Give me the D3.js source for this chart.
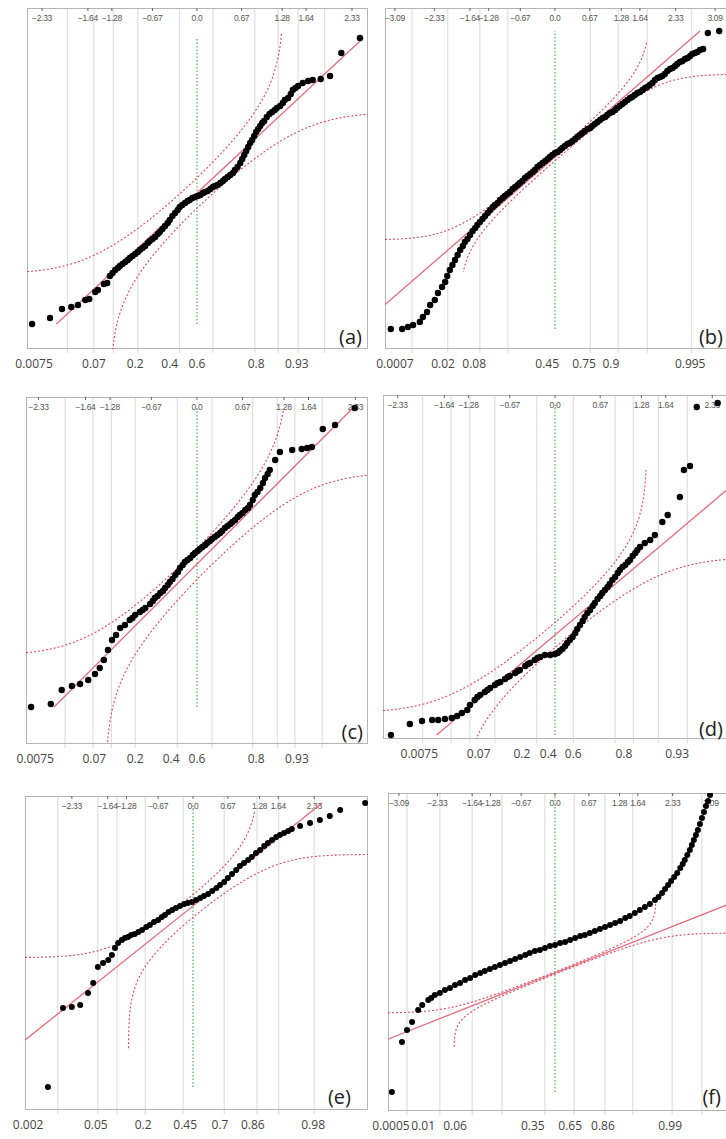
<!DOCTYPE html>
<html><head><meta charset="utf-8">
<script src="https://cdn.jsdelivr.net/npm/d3@7"></script>
<style>
html,body{margin:0;padding:0;background:#fff;}
svg{display:block;}
</style></head><body>
<svg id="chart" width="726" height="1139"></svg>
<script>
// ---------- data ----------
const panelNames = ["(a)", "(b)", "(c)", "(d)", "(e)", "(f)"];

// normal-quantile ticks printed along the top of each frame
const quantTicks9 = [-2.33, -1.64, -1.28, -0.67, 0, 0.67, 1.28, 1.64, 2.33];
const quantTicks11 = [-3.09, -2.33, -1.64, -1.28, -0.67, 0, 0.67, 1.28, 1.64, 2.33, 3.09];

// probability grid lines (normal-quantile position)
const gridA = [-1.95, -1.55, -1.26, -0.89, -0.26, 0.24, 0.87, 1.22, 1.52, 1.92];
const gridB = [-2.76, -2.07, -1.45, -0.91, 0.68, 1.22, 1.78, 2.64];
const gridC = [-1.94, -1.53, -1.26, -0.91, -0.29, 0.22, 0.82, 1.18, 1.44, 1.84];
const gridD = [-1.96, -1.54, -1.26, -0.89, -0.27, 0.27, 0.89, 1.16, 1.53, 1.96];
const gridE = [-2.60, -1.83, -1.46, -0.92, -0.19, 0.60, 1.23, 1.65, 2.33];
const gridF = [-2.93, -2.28, -1.64, -1.05, -0.20, 0.38, 0.99, 1.54, 2.32, 2.91];

// probability labels under each frame and where they sit
const probA = ["0.0075", "0.07", "0.2", "0.4", "0.6", "0.8", "0.93"];
const probAz = [-2.45, -1.55, -0.93, -0.41, 0, 0.89, 1.50];
const probB = ["0.0007", "0.02", "0.08", "0.45", "0.75", "0.9", "0.995"];
const probBz = [-3.09, -2.16, -1.56, -0.15, 0.56, 1.08, 2.61];
const probC = ["0.0075", "0.07", "0.2", "0.4", "0.6", "0.8", "0.93"];
const probCz = [-2.38, -1.51, -0.91, -0.38, 0, 0.87, 1.47];
const probD = ["0.0075", "0.07", "0.2", "0.4", "0.6", "0.8", "0.93"];
const probDz = [-2.01, -1.13, -0.49, -0.10, 0.27, 1.02, 1.81];
const probE = ["0.002", "0.05", "0.2", "0.45", "0.7", "0.86", "0.98"];
const probEz = [-3.17, -1.87, -0.96, -0.15, 0.52, 1.15, 2.31];
const probF = ["0.0005", "0.01", "0.06", "0.35", "0.65", "0.86", "0.99"];
const probFz = [-3.25, -2.61, -1.98, -0.44, 0.30, 0.95, 2.28];

// ordered observations: [normal quantile, value]
const pointsA = [[-2.48,25],[-2.21,31],[-2.03,40],[-1.89,42],[-1.79,44],[-1.68,49],[-1.62,50],[-1.53,57],[-1.49,59],[-1.40,65],[-1.35,66],[-1.31,73],[-1.27,76],[-1.23,79],[-1.19,81],[-1.16,83],[-1.12,85],[-1.08,87],[-1.04,89],[-1.01,91],[-0.97,93],[-0.93,95],[-0.89,97],[-0.86,99],[-0.82,101],[-0.78,103],[-0.74,106],[-0.71,108],[-0.67,110],[-0.63,112],[-0.59,115],[-0.56,117],[-0.52,120],[-0.48,123],[-0.44,126],[-0.41,129],[-0.37,133],[-0.33,136],[-0.29,139],[-0.26,142],[-0.22,144],[-0.18,146],[-0.14,148],[-0.11,149],[-0.07,151],[-0.03,152],[0.01,153],[0.05,154],[0.09,156],[0.12,157],[0.16,158],[0.20,160],[0.24,162],[0.27,163],[0.31,164],[0.35,166],[0.39,168],[0.42,170],[0.46,172],[0.50,174],[0.54,176],[0.57,179],[0.61,182],[0.65,186],[0.68,190],[0.71,194],[0.74,198],[0.77,202],[0.80,206],[0.83,209],[0.86,213],[0.89,217],[0.92,220],[0.95,223],[0.98,226],[1.01,228],[1.05,232],[1.09,235],[1.13,237],[1.17,239],[1.20,241],[1.25,243],[1.29,246],[1.32,249],[1.37,251],[1.41,255],[1.44,259],[1.48,261],[1.52,263],[1.59,266],[1.67,268],[1.74,269],[1.86,270],[2.00,273],[2.17,296],[2.45,311]];
const pointsB = [[-3.17,20],[-2.95,20],[-2.84,22],[-2.74,24],[-2.61,27],[-2.55,32],[-2.47,37],[-2.41,44],[-2.32,49],[-2.26,56],[-2.18,62],[-2.12,67],[-2.08,73],[-2.03,79],[-1.98,84],[-1.93,89],[-1.88,94],[-1.83,99],[-1.78,103],[-1.74,107],[-1.69,110],[-1.64,114],[-1.59,118],[-1.54,121],[-1.50,124],[-1.45,127],[-1.40,130],[-1.35,133],[-1.30,136],[-1.25,139],[-1.20,142],[-1.16,144],[-1.11,146],[-1.06,149],[-1.01,151],[-0.97,153],[-0.92,155],[-0.87,157],[-0.82,160],[-0.77,162],[-0.72,164],[-0.68,166],[-0.63,168],[-0.58,171],[-0.53,173],[-0.48,175],[-0.43,177],[-0.39,179],[-0.34,182],[-0.29,184],[-0.24,186],[-0.19,188],[-0.14,190],[-0.10,192],[-0.05,194],[0,196],[0.05,197],[0.10,199],[0.14,201],[0.19,203],[0.24,205],[0.29,206],[0.34,208],[0.39,210],[0.43,212],[0.48,214],[0.53,216],[0.58,218],[0.63,220],[0.68,221],[0.72,223],[0.77,225],[0.82,227],[0.87,229],[0.92,231],[0.97,232],[1.01,234],[1.06,236],[1.11,237],[1.16,239],[1.20,241],[1.25,243],[1.30,245],[1.35,247],[1.40,249],[1.45,251],[1.49,252],[1.54,254],[1.59,256],[1.64,257],[1.69,259],[1.74,261],[1.78,262],[1.83,264],[1.88,266],[1.93,269],[1.98,271],[2.03,272],[2.07,273],[2.12,275],[2.17,278],[2.22,280],[2.27,281],[2.32,283],[2.36,285],[2.41,287],[2.46,288],[2.51,290],[2.56,291],[2.61,293],[2.65,295],[2.70,296],[2.75,297],[2.80,299],[2.86,300],[2.95,316],[3.17,318]];
const pointsC = [[-2.44,37],[-2.15,40],[-1.99,54],[-1.84,58],[-1.72,60],[-1.60,64],[-1.50,70],[-1.43,76],[-1.37,84],[-1.31,94],[-1.25,104],[-1.19,109],[-1.13,116],[-1.06,119],[-0.99,124],[-0.95,126],[-0.91,129],[-0.84,132],[-0.80,134],[-0.76,136],[-0.69,140],[-0.65,143],[-0.62,146],[-0.58,148],[-0.54,151],[-0.50,153],[-0.47,156],[-0.43,159],[-0.40,162],[-0.36,165],[-0.32,169],[-0.28,172],[-0.25,176],[-0.21,179],[-0.18,182],[-0.14,184],[-0.10,186],[-0.06,189],[-0.03,191],[0.01,193],[0.04,195],[0.08,197],[0.12,199],[0.15,201],[0.19,203],[0.22,205],[0.26,207],[0.30,209],[0.34,211],[0.37,213],[0.41,216],[0.45,218],[0.49,220],[0.52,222],[0.56,224],[0.60,227],[0.63,229],[0.67,231],[0.71,234],[0.75,236],[0.78,239],[0.82,244],[0.85,249],[0.89,252],[0.93,256],[0.97,261],[1.00,266],[1.04,270],[1.07,274],[1.15,284],[1.22,292],[1.40,294],[1.54,295],[1.62,296],[1.69,297],[1.85,315],[2.03,319],[2.32,336]];
const pointsD = [[-2.43,4],[-2.15,15],[-1.97,18],[-1.82,19],[-1.73,19],[-1.63,20],[-1.53,21],[-1.45,23],[-1.38,26],[-1.30,29],[-1.26,34],[-1.19,39],[-1.15,42],[-1.11,44],[-1.04,47],[-1.00,49],[-0.96,51],[-0.89,54],[-0.85,56],[-0.81,57],[-0.74,60],[-0.70,62],[-0.67,63],[-0.59,66],[-0.55,68],[-0.52,69],[-0.44,73],[-0.40,75],[-0.37,76],[-0.30,79],[-0.26,81],[-0.22,82],[-0.15,84],[-0.07,84],[0,85],[0.04,86],[0.07,88],[0.11,90],[0.15,93],[0.18,96],[0.22,99],[0.26,102],[0.30,106],[0.33,110],[0.37,114],[0.41,118],[0.44,122],[0.48,126],[0.52,129],[0.56,133],[0.59,136],[0.63,140],[0.67,143],[0.70,146],[0.74,149],[0.78,152],[0.81,155],[0.85,159],[0.89,162],[0.93,166],[0.96,169],[1.00,172],[1.04,174],[1.08,177],[1.11,179],[1.15,183],[1.19,186],[1.22,189],[1.26,192],[1.33,196],[1.41,199],[1.48,204],[1.59,217],[1.67,224],[1.85,242],[1.91,269],[2.00,273],[2.10,332],[2.41,336]];
const pointsE = [[-2.79,23],[-2.50,102],[-2.33,103],[-2.17,105],[-2.02,117],[-1.92,127],[-1.83,143],[-1.73,147],[-1.63,150],[-1.56,155],[-1.50,162],[-1.44,167],[-1.37,170],[-1.31,172],[-1.25,173],[-1.19,175],[-1.12,176],[-1.05,178],[-0.98,180],[-0.90,183],[-0.83,185],[-0.75,188],[-0.67,190],[-0.60,193],[-0.54,195],[-0.47,198],[-0.40,200],[-0.33,202],[-0.25,204],[-0.17,206],[-0.10,207],[-0.02,208],[0.06,210],[0.14,212],[0.21,214],[0.29,216],[0.37,219],[0.45,222],[0.52,225],[0.60,228],[0.67,232],[0.75,236],[0.83,240],[0.90,244],[0.98,247],[1.06,250],[1.13,253],[1.21,257],[1.29,260],[1.37,264],[1.44,267],[1.52,270],[1.60,273],[1.67,275],[1.75,277],[1.83,279],[1.90,281],[2.06,284],[2.25,287],[2.44,290],[2.63,294],[2.83,300],[3.31,307]];
const pointsF = [[-3.23,19],[-3.03,69],[-2.93,81],[-2.83,89],[-2.71,101],[-2.63,106],[-2.51,111],[-2.45,113],[-2.38,116],[-2.28,118],[-2.18,121],[-2.08,123],[-1.98,126],[-1.88,128],[-1.78,131],[-1.68,133],[-1.58,136],[-1.48,138],[-1.39,140],[-1.29,142],[-1.19,144],[-1.09,146],[-0.99,148],[-0.89,150],[-0.79,152],[-0.69,154],[-0.59,156],[-0.50,158],[-0.40,160],[-0.30,161],[-0.20,163],[-0.10,165],[0,166],[0.10,168],[0.20,169],[0.30,171],[0.40,173],[0.50,175],[0.59,176],[0.69,178],[0.79,180],[0.89,182],[0.99,184],[1.09,186],[1.19,188],[1.29,190],[1.39,193],[1.48,195],[1.58,198],[1.68,201],[1.78,204],[1.88,207],[1.98,211],[2.05,214],[2.12,218],[2.18,222],[2.24,226],[2.30,230],[2.36,234],[2.42,238],[2.48,243],[2.53,247],[2.57,251],[2.62,256],[2.67,261],[2.71,266],[2.75,271],[2.79,276],[2.83,281],[2.87,287],[2.91,293],[2.95,299],[2.99,305],[3.03,310],[3.07,316],[3.12,323],[3.17,331],[3.31,333]];

// fitted normal line [mean, sd] and confidence band [D, lower limit, upper limit]
const fitA = [156, 62], bandA = [0.097, 0, 317];
const fitB = [192, 45], bandB = [0.033, 77, 307];
const fitC = [180, 68], bandC = [0.090, 0, 334];
const fitD = [104, 57], bandD = [0.087, 0, 269];
const fitE = [204, 41.5], bandE = [0.107, 0, 300];
const fitF = [138, 20], bandF = [0.0228, 0, 300];

// ---------- layout ----------
const frames = [
  {L: 27, T: 8, R: 368, B: 349, z: [-2.556, 2.571], ticks: quantTicks9, r: 3.2, tx: 362, ty: 344},
  {L: 385, T: 8, R: 728, B: 349, z: [-3.282, 3.340], ticks: quantTicks11, r: 3.2, tx: 723, ty: 344},
  {L: 26, T: 397, R: 368, B: 744, z: [-2.515, 2.515], ticks: quantTicks9, r: 3.2, tx: 363, ty: 739},
  {L: 383, T: 395, R: 728, B: 739, z: [-2.548, 2.563], ticks: quantTicks9, r: 3.2, tx: 723, ty: 736},
  {L: 25, T: 796, R: 368, B: 1110, z: [-3.231, 3.365], ticks: quantTicks9, r: 3.0, tx: 351, ty: 1104},
  {L: 388, T: 793, R: 728, B: 1111, z: [-3.307, 3.426], ticks: quantTicks11, r: 3.0, tx: 721, ty: 1104}
];
const grids = [gridA, gridB, gridC, gridD, gridE, gridF];
const probs = [probA, probB, probC, probD, probE, probF];
const probsZ = [probAz, probBz, probCz, probDz, probEz, probFz];
const points = [pointsA, pointsB, pointsC, pointsD, pointsE, pointsF];
const fits = [fitA, fitB, fitC, fitD, fitE, fitF];
const bands = [bandA, bandB, bandC, bandD, bandE, bandF];

// ---------- normal distribution helpers ----------
function normInv(p) {
  const a = [-3.969683028665376e+01, 2.209460984245205e+02, -2.759285104469687e+02, 1.383577518672690e+02, -3.066479806614716e+01, 2.506628277459239e+00];
  const b = [-5.447609879822406e+01, 1.615858368580409e+02, -1.556989798598866e+02, 6.680131188771972e+01, -1.328068155288572e+01];
  const c = [-7.784894002430293e-03, -3.223964580411365e-01, -2.400758277161838e+00, -2.549732539343734e+00, 4.374664141464968e+00, 2.938163982698783e+00];
  const d = [7.784695709041462e-03, 3.224671290700398e-01, 2.445134137142996e+00, 3.754408661907416e+00];
  const pl = 0.02425, ph = 1 - pl;
  let q, r;
  if (p < pl) {
    q = Math.sqrt(-2 * Math.log(p));
    return (((((c[0]*q+c[1])*q+c[2])*q+c[3])*q+c[4])*q+c[5]) / ((((d[0]*q+d[1])*q+d[2])*q+d[3])*q+1);
  }
  if (p > ph) {
    q = Math.sqrt(-2 * Math.log(1 - p));
    return -(((((c[0]*q+c[1])*q+c[2])*q+c[3])*q+c[4])*q+c[5]) / ((((d[0]*q+d[1])*q+d[2])*q+d[3])*q+1);
  }
  q = p - 0.5; r = q * q;
  return (((((a[0]*r+a[1])*r+a[2])*r+a[3])*r+a[4])*r+a[5])*q / (((((b[0]*r+b[1])*r+b[2])*r+b[3])*r+b[4])*r+1);
}
function normCdf(x) {
  const t = 1 / (1 + 0.2316419 * Math.abs(x));
  const dd = 0.3989423 * Math.exp(-x * x / 2);
  const p = dd * t * (0.3193815 + t * (-0.3565638 + t * (1.781478 + t * (-1.821256 + t * 1.330274))));
  return x > 0 ? 1 - p : p;
}

// ---------- drawing ----------
const svg = d3.select("#chart");
const defs = svg.append("defs");
const fmtTick = v => v === 0 ? "0.0" : d3.format(".2f")(v);

frames.forEach((f, i) => {
  const g = svg.append("g");
  const x = d3.scaleLinear().domain(f.z).range([f.L, f.R]);
  const y = d3.scaleLinear().domain([0, f.B - f.T]).range([f.B, f.T]);
  const [mean, sd] = fits[i];
  const [D, bandLo, bandHi] = bands[i];
  const data = points[i];
  const vExt = d3.extent(data, p => p[1]);

  const clipId = "clip" + i;
  defs.append("clipPath").attr("id", clipId)
    .append("rect").attr("x", f.L).attr("y", f.T).attr("width", f.R - f.L).attr("height", f.B - f.T);
  const bandClip = "bclip" + i;
  defs.append("clipPath").attr("id", bandClip)
    .append("rect").attr("x", f.L).attr("y", Math.max(f.T, y(bandHi)))
    .attr("width", f.R - f.L).attr("height", Math.min(f.B, y(bandLo)) - Math.max(f.T, y(bandHi)));

  // grid
  g.append("g").selectAll("line").data(grids[i]).join("line")
    .attr("x1", d => x(d)).attr("x2", d => x(d))
    .attr("y1", f.T).attr("y2", f.B + 4)
    .attr("stroke", "#d9d9d9").attr("stroke-width", 1);

  // frame
  g.append("rect").attr("x", f.L + 0.5).attr("y", f.T + 0.5)
    .attr("width", f.R - f.L - 1).attr("height", f.B - f.T - 1)
    .attr("fill", "none").attr("stroke", "#b4b4b4");

  // top quantile axis (inside the frame)
  const topAxis = g.append("g");
  topAxis.selectAll("line").data(f.ticks).join("line")
    .attr("x1", d => x(d)).attr("x2", d => x(d))
    .attr("y1", f.T).attr("y2", f.T + 3)
    .attr("stroke", "#666");
  topAxis.selectAll("text").data(f.ticks).join("text")
    .attr("x", d => x(d)).attr("y", f.T + 13)
    .attr("text-anchor", "middle")
    .attr("font-family", "Liberation Sans, Arial, sans-serif")
    .attr("font-size", 8.5).attr("letter-spacing", -0.3).attr("fill", "#555")
    .text(fmtTick);

  // bottom probability labels
  g.append("g").selectAll("text").data(probs[i]).join("text")
    .attr("x", (d, j) => x(probsZ[i][j])).attr("y", f.B + 19)
    .attr("text-anchor", "middle")
    .attr("font-family", "Open Sans, DejaVu Sans, sans-serif")
    .attr("font-size", 12).attr("fill", "#444")
    .text(d => d);

  const plot = g.append("g").attr("clip-path", `url(#${clipId})`);

  // reference line at quantile 0
  plot.append("line")
    .attr("x1", x(0)).attr("x2", x(0))
    .attr("y1", y(vExt[0])).attr("y2", y(vExt[1]))
    .attr("stroke", "#4fb04f").attr("stroke-width", 1.2)
    .attr("stroke-dasharray", "1.5,2");

  // confidence band
  const zs = d3.range(f.z[0], f.z[1], 0.002);
  const upper = [], lower = [];
  zs.forEach(z => {
    const qu = normCdf(z) + D;
    if (qu < 0.99999) upper.push([z, mean + sd * normInv(qu)]);
    const ql = normCdf(z) - D;
    if (ql > 0.00001) lower.push([z, mean + sd * normInv(ql)]);
  });
  const bandLine = d3.line().x(d => x(d[0])).y(d => y(d[1]));
  const bandG = plot.append("g").attr("clip-path", `url(#${bandClip})`);
  [upper, lower].forEach(pts => {
    bandG.append("path").attr("d", bandLine(pts))
      .attr("fill", "none").attr("stroke", "#e0475f").attr("stroke-width", 1.1)
      .attr("stroke-dasharray", "2,2");
  });

  // fitted normal line across the data range
  plot.append("line")
    .attr("x1", x((vExt[0] - mean) / sd)).attr("y1", y(vExt[0]))
    .attr("x2", x((vExt[1] - mean) / sd)).attr("y2", y(vExt[1]))
    .attr("stroke", "#e46d7d").attr("stroke-width", 1.3);

  // observations
  plot.append("g").selectAll("circle").data(data).join("circle")
    .attr("cx", d => x(d[0])).attr("cy", d => y(d[1]))
    .attr("r", f.r).attr("fill", "#000");

  // panel tag
  g.append("text").attr("x", f.tx).attr("y", f.ty)
    .attr("text-anchor", "end")
    .attr("font-family", "Open Sans, DejaVu Sans, sans-serif")
    .attr("font-size", 20).attr("fill", "#222")
    .text(panelNames[i]);
});
</script>
</body></html>
